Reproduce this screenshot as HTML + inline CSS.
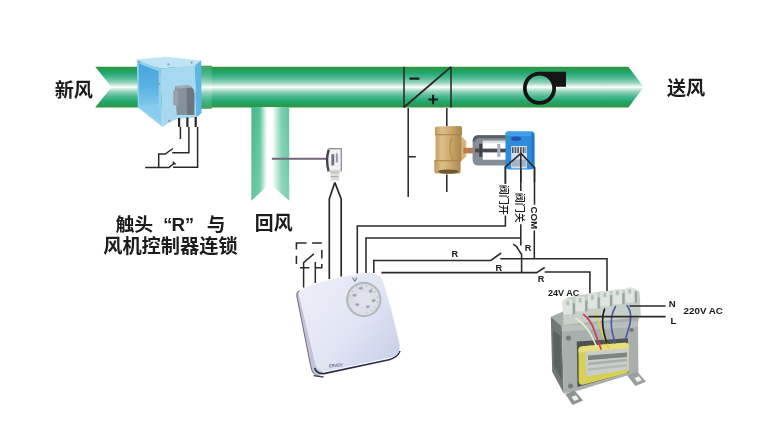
<!DOCTYPE html>
<html lang="zh"><head><meta charset="utf-8"><title>HVAC wiring diagram</title>
<style>html,body{margin:0;padding:0;background:#fff;overflow:hidden}svg{display:block}</style></head>
<body><svg width="759" height="432" viewBox="0 0 759 432">
<defs>
<linearGradient id="duct" x1="0" y1="66.7" x2="0" y2="107.5" gradientUnits="userSpaceOnUse">
<stop offset="0" stop-color="#2f9645"/><stop offset="0.07" stop-color="#299c52"/><stop offset="0.15" stop-color="#1fa870"/>
<stop offset="0.27" stop-color="#4db890"/><stop offset="0.385" stop-color="#8fd2b8"/><stop offset="0.465" stop-color="#d7f0e6"/><stop offset="0.5" stop-color="#ffffff"/>
<stop offset="0.535" stop-color="#d7f0e6"/><stop offset="0.615" stop-color="#8fd2b8"/><stop offset="0.73" stop-color="#4db890"/><stop offset="0.85" stop-color="#1fa870"/>
<stop offset="0.93" stop-color="#299c52"/><stop offset="1" stop-color="#2f9645"/>
</linearGradient>
<linearGradient id="collar" href="#duct" x1="0" y1="65.7" x2="0" y2="108.8" gradientUnits="userSpaceOnUse"/>
<linearGradient id="branch" x1="251.4" y1="0" x2="289.2" y2="0" gradientUnits="userSpaceOnUse">
<stop offset="0" stop-color="#40b888"/><stop offset="0.22" stop-color="#5ac29a"/><stop offset="0.41" stop-color="#ffffff"/>
<stop offset="0.55" stop-color="#ffffff"/><stop offset="0.80" stop-color="#78cfad"/><stop offset="1" stop-color="#60c59e"/>
</linearGradient>
<linearGradient id="branchfade" x1="0" y1="108" x2="0" y2="200" gradientUnits="userSpaceOnUse">
<stop offset="0" stop-color="#fff" stop-opacity="0"/><stop offset="1" stop-color="#fff" stop-opacity="0.18"/>
</linearGradient>
<linearGradient id="brass" x1="434" y1="0" x2="462" y2="0" gradientUnits="userSpaceOnUse">
<stop offset="0" stop-color="#bd9859"/><stop offset="0.28" stop-color="#dcc089"/><stop offset="0.6" stop-color="#cba768"/><stop offset="1" stop-color="#a8854a"/>
</linearGradient>
<linearGradient id="thermo" x1="300" y1="290" x2="400" y2="370" gradientUnits="userSpaceOnUse">
<stop offset="0" stop-color="#eceef8"/><stop offset="0.5" stop-color="#e1e4f3"/><stop offset="1" stop-color="#c6cce8"/>
</linearGradient>
<linearGradient id="dinner" x1="0" y1="64" x2="0" y2="105" gradientUnits="userSpaceOnUse"><stop offset="0" stop-color="#46a5db"/><stop offset="0.55" stop-color="#5ab2e3"/><stop offset="1" stop-color="#7dc7ec"/></linearGradient>
<filter id="tsoft" x="-2%" y="-2%" width="104%" height="104%"><feGaussianBlur stdDeviation="0.3"/></filter>
<filter id="soft" x="-5%" y="-5%" width="110%" height="110%"><feGaussianBlur stdDeviation="0.45"/></filter>
<filter id="soft2" x="-5%" y="-5%" width="110%" height="110%"><feGaussianBlur stdDeviation="0.7"/></filter>
</defs>
<rect width="759" height="432" fill="#fff"/>
<g filter="url(#soft)">
<polygon points="95.2,66.7 628.4,66.7 643.8,87.1 628.4,107.5 95.2,107.5 111.5,87.1" fill="url(#duct)"/>
<rect x="200" y="65.7" width="11.8" height="43.1" fill="url(#collar)"/>
<rect x="200" y="65.7" width="11.8" height="43.1" fill="#fff" opacity="0.12"/>
<polygon points="251.4,107 289.2,107 289.2,200.7 269.9,183.4 251.4,200.7" fill="url(#branch)"/>
<polygon points="251.4,107 289.2,107 289.2,200.7 269.9,183.4 251.4,200.7" fill="url(#branchfade)"/>
</g>
<g stroke="#2e2828" stroke-width="1.55" fill="none" stroke-linecap="butt">
<path d="M404,66.7V107.5 M451,66.7V107.5"/><path d="M404,107.2L451,66.9" stroke-width="1.9"/>
</g>
<path d="M409.4,78.6H419.4" stroke="#1a1a1a" stroke-width="2.2"/>
<path d="M428.4,99.5H437.9 M433.1,94.8V104.3" stroke="#1a1a1a" stroke-width="2.1"/>
<rect x="539.5" y="71.75" width="26.5" height="15" fill="#151515"/>
<circle cx="539.5" cy="88.3" r="14.65" fill="url(#duct)" stroke="#151515" stroke-width="3.8"/>
<g filter="url(#soft)">
<polygon points="136.8,59.6 166.3,56.8 201.2,60.4 195.3,64.8 160.6,68.8" fill="#bfe4f5"/>
<polygon points="136.8,59.6 160.6,68.8 162.6,126.9 137.8,107.6" fill="#93d2ef"/>
<polygon points="138.6,63.4 158.6,71 158.9,104.3 139,106.2" fill="url(#dinner)"/>
<polygon points="139,106.2 158.9,104.3 160.8,121.5 139.6,107.4" fill="#86cdee"/>
<polygon points="160.6,68.8 195.3,64.8 196.2,117.4 178,118.8 169.8,122.3 162.6,126.9" fill="#a6d8f0"/>
<polygon points="195.3,64.8 201.2,60.4 201.5,113 196.2,117.4" fill="#5db6e3"/>
<path d="M174.8,86.2 L188,85.2 Q194.2,86.4 194.4,93.5 L194.2,115 L176.8,115 Z" fill="#87919b"/>
<path d="M186.4,85.8 Q194,86.6 194.4,93.5 L194.2,115 L187,115 Z" fill="#6d7680"/>
<rect x="173.2" y="90.2" width="5" height="15.4" rx="0.8" fill="#98a1ab"/>
<path d="M175,86.5 L188,85.4 Q191,85.8 192.5,87.5 L176,88.6 Z" fill="#a3acb6"/>
<circle cx="168.4" cy="64.4" r="1.15" fill="#8f9aa6"/>
<circle cx="191.6" cy="62.6" r="1.15" fill="#8f9aa6"/>
<circle cx="158.9" cy="84.0" r="1.15" fill="#8f9aa6"/>
<circle cx="169.4" cy="121.0" r="1.15" fill="#8f9aa6"/>
<circle cx="139.2" cy="62.2" r="1.15" fill="#8f9aa6"/>
</g>
<g stroke="#2b2626" fill="none">
<path d="M179.1,118V127 M187.4,117.6V127 M195.7,117V127" stroke-width="2.2"/>
<path d="M180.4,126.9V138.9 M188.9,126.9V152.8H172.2 M197.6,126.9V167.3H173 M173,148.5L165.2,154.1H158.7V167.3 M145.2,167.5H168.9L174.6,162.8 M173,161.8L175.6,164.6" stroke-width="1.5"/>
</g>
<g filter="url(#soft)">
<path d="M271.8,158.8H327" stroke="#75657a" stroke-width="1.9"/>
<rect x="328.4" y="148.1" width="13.5" height="23.4" fill="#f0f1f4"/>
<path d="M328.7,149.6 Q325.4,160 328.7,171.5" fill="none" stroke="#4a4248" stroke-width="2.4"/>
<rect x="328.4" y="148.1" width="13.5" height="1.2" fill="#85858d"/>
<rect x="340.7" y="149" width="1.3" height="22" fill="#8f8f98"/>
<rect x="328.4" y="170.5" width="13.5" height="1" fill="#b5b5bd"/>
<rect x="331.4" y="154.2" width="2.8" height="11.2" fill="#70707c"/>
<rect x="335.8" y="153.4" width="2" height="9" fill="#9a9aa6"/>
<rect x="330.3" y="172" width="9" height="8.6" fill="#dcdee2"/>
<rect x="330.3" y="172" width="9" height="1.2" fill="#c9c28e"/>
<rect x="331" y="176.2" width="7.6" height="1" fill="#a6a8b0"/>
</g>
<g stroke="#2e2828" stroke-width="1.55" fill="none" stroke-linecap="butt">
<path d="M334.8,182.4L329.3,199V279 M334.8,182.4L341.2,199V276.5" stroke-width="1.7"/>
</g>
<g filter="url(#soft)">
<path d="M299.5,290.5 Q296.2,291.5 296.8,296 L310.8,366.5 Q312.2,374.5 318.5,376.6 L323,373 L301.5,290 Z" fill="#c2c3d5"/>
<path d="M299.5,290.5 Q296.2,291.5 296.8,296 L310.8,366.5 Q312.2,374.5 318.5,376.6" fill="none" stroke="#6e6a7a" stroke-width="1"/>
<path d="M313.5,375.6 L323.5,377" fill="none" stroke="#4a4658" stroke-width="1.3"/>
<path d="M314.6,368 Q316.8,374.6 325,373.4 L389,359.7 Q397.2,357.8 400,351" fill="none" stroke="#2c2c48" stroke-width="1.6"/>
<path d="M299.2,296 Q297.5,290 303.5,287.8 Q340,275.5 368,273 Q379,272.8 382.5,280 Q392,310 399.5,344 Q401,354 393.5,356.8 L326.5,371.2 Q317.5,372.8 315.2,364 Z" fill="url(#thermo)"/>
<circle cx="363.8" cy="299.5" r="17.7" fill="#b4b8be"/>
<circle cx="363.8" cy="299.5" r="15.5" fill="#dcdee6"/>
<circle cx="363.8" cy="299.5" r="8" fill="#e1e3ea"/>
<ellipse cx="354.5" cy="295.2" rx="2" ry="1.5" fill="#a3a6b6"/>
<ellipse cx="360.8" cy="288.2" rx="2" ry="1.5" fill="#a3a6b6"/>
<ellipse cx="370.7" cy="291.1" rx="2" ry="1.5" fill="#a3a6b6"/>
<ellipse cx="373.6" cy="300.4" rx="2" ry="1.5" fill="#a3a6b6"/>
<ellipse cx="367.8" cy="306.7" rx="2" ry="1.5" fill="#a3a6b6"/>
<ellipse cx="357.4" cy="304.4" rx="2" ry="1.5" fill="#a3a6b6"/>
<circle cx="350.7" cy="296.0" r="0.5" fill="#9a9da9"/>
<circle cx="352.9" cy="291.3" r="0.5" fill="#9a9da9"/>
<circle cx="356.8" cy="287.8" r="0.5" fill="#9a9da9"/>
<circle cx="361.7" cy="286.1" r="0.5" fill="#9a9da9"/>
<circle cx="366.9" cy="286.2" r="0.5" fill="#9a9da9"/>
<circle cx="371.6" cy="288.4" r="0.5" fill="#9a9da9"/>
<circle cx="375.2" cy="292.1" r="0.5" fill="#9a9da9"/>
<circle cx="377.2" cy="296.9" r="0.5" fill="#9a9da9"/>
<circle cx="377.2" cy="302.1" r="0.5" fill="#9a9da9"/>
<circle cx="375.2" cy="306.9" r="0.5" fill="#9a9da9"/>
<circle cx="371.6" cy="310.6" r="0.5" fill="#9a9da9"/>
<circle cx="366.9" cy="312.8" r="0.5" fill="#9a9da9"/>
<path d="M352.6,277.6l2.2,3.6l2.2,-3.6" stroke="#7a7d8a" stroke-width="1.2" fill="none"/>
</g>
<text x="328.7" y="366.9" font-family="Liberation Sans, sans-serif" font-weight="bold" font-size="4.4" fill="#6d7191" textLength="14" lengthAdjust="spacingAndGlyphs" transform="rotate(-4 336 364)">ERVEV</text>
<g stroke="#2e2828" stroke-width="1.55" fill="none" stroke-linecap="butt">
<path d="M296.4,249.4V242.9H306.5 M312.1,242.9H321.8 M321.8,250.1V258.5 M321.8,264V267.8H315.8 M309.3,267.8H300 M296.4,255.7V264"/>
<path d="M313.9,253.9L303.6,262.6V287.5 M315.3,262V283" stroke-width="1.5"/>
</g>
<g stroke="#2e2828" stroke-width="1.55" fill="none" stroke-linecap="butt">
<path d="M357.3,273.6V225.9H505.4V215.4 M505.4,183.8V166.8L520.9,153.4"/>
<path d="M366,273V238H520.8V224.3 M520.8,191V153.4"/>
<path d="M520.8,238.2V245.6 M513.2,244.1L517.8,247.5 M516,245.8L521.6,254.6V272.5"/>
<path d="M373.8,273V260.4H490.8L501.2,253 M500.2,258.7H607V294.3"/>
<path d="M381.4,272.6H536.7L544.7,267.5 M544.8,272H589.9V294.3"/>
<path d="M520.9,153.4L534.5,167.5V204.8 M534.3,230.6V258.7"/>
<path d="M408.2,108V197 M408.2,156.7H415.8 M446.8,108V126.3 M446.8,174.6V192"/>
</g>
<g filter="url(#soft)">
<path d="M460.5,135.5 L466.2,141 V156.5 L460.5,161.7 Z" fill="#d2b47c"/>
<rect x="463.4" y="147.8" width="10.4" height="5.6" fill="#bd7b49"/>
<path d="M434.9,128.2 Q434.9,126.6 437,126.5 L460,125.9 Q462,125.9 462,128 V134.8 H434.9 Z" fill="url(#brass)"/>
<rect x="435.6" y="133.5" width="25.7" height="28" fill="url(#brass)"/>
<path d="M434.3,160.3 H460.6 V171 Q460.6,173.6 458,173.6 H437 Q434.3,173.6 434.3,171 Z" fill="url(#brass)"/>
<rect x="434.9" y="134" width="27.1" height="1.3" fill="#a17f47" opacity="0.7"/>
<rect x="434.3" y="160" width="26.3" height="1.3" fill="#a17f47" opacity="0.7"/>
<ellipse cx="448.2" cy="171.6" rx="10.4" ry="2.2" fill="#6f5631"/>
<path d="M452,137 Q447.5,148 452.5,160" stroke="#b08d55" stroke-width="1.2" fill="none"/>
<path d="M472.6,141 Q472.8,135.3 478.5,135.3 H507 V140.8 H482.8 V159.7 H507 V165.6 H478.5 Q472.8,165.6 472.6,160 Z" fill="#858d96"/>
<path d="M472.6,141 Q472.8,135.3 478.5,135.3 H507 V138.2 H479 Q475.4,138.4 475.2,142 Z" fill="#5a616a"/>
<rect x="475" y="148.6" width="32" height="3.8" fill="#4a4a52"/>
<rect x="479.2" y="143.8" width="3" height="13" fill="#3d4248"/>
<rect x="497.2" y="144" width="3.2" height="12.8" fill="#aab1b9"/>
<rect x="482.8" y="140.8" width="24.2" height="2.4" fill="#c9ced3" opacity="0.6"/>
<path d="M507.5,131.5 H530.5 Q534.4,131.5 534.4,135.5 V165.5 Q534.5,169.6 530,169.6 H509.5 Q505.5,169.6 505.5,165.5 V134 Q505.6,131.5 507.5,131.5 Z" fill="#2d8cdb"/>
<rect x="505.6" y="131.5" width="28.7" height="4.6" rx="2" fill="#409fe7"/>
<path d="M531.3,132.5 Q534.4,132.5 534.4,136.5 V165.5 Q534.4,168.5 532,169.3 L531.3,140 Z" fill="#2278c6"/>
<rect x="511.2" y="146" width="15.8" height="22.4" fill="#d3dfec"/>
<rect x="512" y="147.2" width="14.2" height="5.8" fill="#4a5566"/>
<rect x="513.6" y="147.2" width="1" height="5.8" fill="#e8eef5"/>
<rect x="516.3" y="147.2" width="1" height="5.8" fill="#e8eef5"/>
<rect x="519.0" y="147.2" width="1" height="5.8" fill="#e8eef5"/>
<rect x="521.7" y="147.2" width="1" height="5.8" fill="#e8eef5"/>
<rect x="524.4" y="147.2" width="1" height="5.8" fill="#e8eef5"/>
<rect x="512" y="159.5" width="14.2" height="7" fill="#a3b2c6"/>
<ellipse cx="516.2" cy="138.7" rx="5" ry="2.2" fill="#2a4fb0"/>
<circle cx="507" cy="137.8" r="1.5" fill="#2fae4a"/>
</g>
<g stroke="#2e2828" stroke-width="1.55" fill="none" stroke-linecap="butt"><path d="M505.4,183.8V166.8L520.9,153.4L534.5,167.5V182 M520.8,182V153.4"/></g>
<g filter="url(#soft)">
<polygon points="550.8,316.8 561.8,325.5 563.8,393.5 552.2,371.8" fill="#727775"/>
<polygon points="553,330 560.5,336 562,380 554,366" fill="#5d625f"/>
<polygon points="550.8,316.8 563,311.5 639,317.6 638,323.6 561.8,326.5" fill="#a8aeab"/>
<polygon points="561.8,325.5 638,321.3 638.4,372 577,391 563.8,393.5" fill="#a9afac"/>
<polygon points="561.8,325.5 638,321.3 638.1,327 562,331.5" fill="#b9bfbc"/>
<polygon points="576.8,341.4 627.8,338.2 628.5,372.5 577.4,387" fill="#4f5350"/>
<path d="M578.5,350 Q578.3,346.6 582.5,346.2 L624.5,342.8 Q629,342.6 629,346.5 L629,369 Q629,372.6 625,373.8 L584,384.6 Q578.8,385.6 578.7,381 Z" fill="#d8cf55"/>
<path d="M578.5,350 Q578.3,346.6 582.5,346.2 L624.5,342.8 Q629,342.6 629,346.5 L629,348.6 L578.5,352.6 Z" fill="#e6df7a"/>
<polygon points="585.6,351.6 628.6,348.3 628.6,369.6 586,376.6" fill="#c9cec8"/>
<polygon points="588,355.5 627,352.5 627,357 588,360.2" fill="#7f857f"/>
<polygon points="588,362.5 627,358.8 627,361.3 588,365.3" fill="#a9afa9"/>
<polygon points="588,368.5 627,364.3 627,366.3 588,370.8" fill="#b3b9b3"/>
<path d="M562.5,301 L568,297.5 L600,291.5 L634,288.5 L639.5,292 L641,317 L563.5,325 Z" fill="#c6d0c8"/>
<rect x="563.2" y="299.2" width="9.2" height="15" rx="1.8" fill="#dde5de"/>
<rect x="572.8" y="303.2" width="2.2" height="11" fill="#9aa49c"/>
<rect x="566.2" y="300.7" width="3" height="4.5" fill="#b6c0b8"/>
<rect x="575.6" y="296.4" width="9.2" height="15" rx="1.8" fill="#dde5de"/>
<rect x="585.2" y="300.4" width="2.2" height="11" fill="#9aa49c"/>
<rect x="578.6" y="297.9" width="3" height="4.5" fill="#b6c0b8"/>
<rect x="588.0" y="293.6" width="9.2" height="15" rx="1.8" fill="#dde5de"/>
<rect x="597.6" y="297.6" width="2.2" height="11" fill="#9aa49c"/>
<rect x="591.0" y="295.1" width="3" height="4.5" fill="#b6c0b8"/>
<rect x="600.4" y="291.2" width="9.2" height="15" rx="1.8" fill="#dde5de"/>
<rect x="610.0" y="295.2" width="2.2" height="11" fill="#9aa49c"/>
<rect x="603.4" y="292.7" width="3" height="4.5" fill="#b6c0b8"/>
<rect x="612.8" y="289.2" width="9.2" height="15" rx="1.8" fill="#dde5de"/>
<rect x="622.4" y="293.2" width="2.2" height="11" fill="#9aa49c"/>
<rect x="615.8" y="290.7" width="3" height="4.5" fill="#b6c0b8"/>
<rect x="625.2" y="287.6" width="9.2" height="15" rx="1.8" fill="#dde5de"/>
<rect x="634.8" y="291.6" width="2.2" height="11" fill="#9aa49c"/>
<rect x="628.2" y="289.1" width="3" height="4.5" fill="#b6c0b8"/>
<g fill="none" stroke-width="1.65" stroke-linecap="round">
<path d="M576,318.5 Q585,324 590.5,334 L597,347" stroke="#e9ebc8"/>
<path d="M583.5,314.5 Q591,320 594.5,331 L601,349" stroke="#cf3a55"/>
<path d="M595.5,311.5 Q598,322 603,335 L608.5,348" stroke="#e3cf3a"/>
<path d="M604.5,309 Q601,319 604,333 L606.5,343" stroke="#1d1d1d"/>
<path d="M615.5,306.5 Q609,318 612.5,333 L615,343" stroke="#5059b0"/>
<path d="M627,305.5 Q633.5,314 628.5,329 L625.5,339" stroke="#5059b0"/>
</g>
<polygon points="565.3,394 574.5,390.5 583,400.5 572.5,405" fill="#8d9391"/>
<polygon points="627,375.3 637.2,371.5 646,381.8 635.3,386" fill="#9aa09e"/>
<polygon points="571.5,397 576,395.3 578.8,399.3 574.3,401" fill="#eef0ee"/>
<polygon points="634.5,378 639,376.3 641.8,380.3 637.3,382" fill="#eef0ee"/>
<circle cx="568.5" cy="338" r="2.5" fill="#757a78"/><circle cx="570.5" cy="386" r="2.5" fill="#757a78"/><circle cx="631.6" cy="330" r="2.1" fill="#757a78"/>
</g>
<g stroke="#2e2828" stroke-width="1.55" fill="none" stroke-linecap="butt"><path d="M629.5,305.9H665.6 M588.4,316.6H665.6"/></g>
<g filter="url(#tsoft)">
<text x="54.7" y="96.9" font-size="18.8" textLength="38.3" lengthAdjust="spacingAndGlyphs" font-family="'Liberation Sans', 'Noto Sans CJK SC', sans-serif" font-weight="bold" fill="#1a1a1a">新风</text>
<text x="666.9" y="95.2" font-size="18.8" textLength="38.3" lengthAdjust="spacingAndGlyphs" font-family="'Liberation Sans', 'Noto Sans CJK SC', sans-serif" font-weight="bold" fill="#1a1a1a">送风</text>
<text x="254.8" y="229.7" font-size="18.8" textLength="37.7" lengthAdjust="spacingAndGlyphs" font-family="'Liberation Sans', 'Noto Sans CJK SC', sans-serif" font-weight="bold" fill="#1a1a1a">回风</text>
<text x="115.4" y="231.4" font-size="18.2" textLength="37.8" lengthAdjust="spacingAndGlyphs" font-family="'Liberation Sans', 'Noto Sans CJK SC', sans-serif" font-weight="bold" fill="#1a1a1a">触头</text>
<text x="163.2" y="230.7" font-size="18" font-family="'Liberation Sans', 'Noto Sans CJK SC', sans-serif" font-weight="bold" fill="#1a1a1a">“</text>
<text x="171.4" y="230.7" font-size="18.3" textLength="13.6" lengthAdjust="spacingAndGlyphs" font-family="Liberation Sans, sans-serif" font-weight="bold" fill="#1a1a1a">R</text>
<text x="185" y="230.7" font-size="18" font-family="'Liberation Sans', 'Noto Sans CJK SC', sans-serif" font-weight="bold" fill="#1a1a1a">”</text>
<text x="206.8" y="231.2" font-size="18.6" font-family="'Liberation Sans', 'Noto Sans CJK SC', sans-serif" font-weight="bold" fill="#1a1a1a">与</text>
<text x="103.2" y="252.6" font-size="18.8" textLength="134.4" lengthAdjust="spacingAndGlyphs" font-family="'Liberation Sans', 'Noto Sans CJK SC', sans-serif" font-weight="bold" fill="#1a1a1a">风机控制器连锁</text>
<text x="451.5" y="256.7" font-size="9.2" font-family="Liberation Sans, sans-serif" font-weight="bold" fill="#1a1a1a">R</text>
<text x="495.6" y="270.9" font-size="9.2" font-family="Liberation Sans, sans-serif" font-weight="bold" fill="#1a1a1a">R</text>
<text x="524.8" y="251.4" font-size="9.2" font-family="Liberation Sans, sans-serif" font-weight="bold" fill="#1a1a1a">R</text>
<text x="537.8" y="282.2" font-size="9.2" font-family="Liberation Sans, sans-serif" font-weight="bold" fill="#1a1a1a">R</text>
<text x="547.9" y="296.1" font-size="9.3" textLength="31.4" lengthAdjust="spacingAndGlyphs" font-family="Liberation Sans, sans-serif" font-weight="bold" fill="#1a1a1a">24V AC</text>
<text x="683.6" y="313.8" font-size="9.6" textLength="39.3" lengthAdjust="spacingAndGlyphs" font-family="Liberation Sans, sans-serif" font-weight="bold" fill="#1a1a1a">220V AC</text>
<text x="668.7" y="306.6" font-size="9.6" font-family="Liberation Sans, sans-serif" font-weight="bold" fill="#1a1a1a">N</text>
<text x="670.6" y="323.9" font-size="9.6" font-family="Liberation Sans, sans-serif" font-weight="bold" fill="#1a1a1a">L</text>
<text transform="translate(509.1,185.4) rotate(90)" x="-0.7" y="8.7" font-size="10.5" textLength="30" lengthAdjust="spacingAndGlyphs" font-family="'Liberation Sans', 'Noto Sans CJK SC', sans-serif" font-weight="500" fill="#1a1a1a">阀门开</text>
<text transform="translate(524.8,193.5) rotate(90)" x="-0.7" y="8.8" font-size="10.5" textLength="30" lengthAdjust="spacingAndGlyphs" font-family="'Liberation Sans', 'Noto Sans CJK SC', sans-serif" font-weight="500" fill="#1a1a1a">阀门关</text>
<text transform="translate(531.3,206.5) rotate(90)" font-size="9.2" textLength="22.7" lengthAdjust="spacingAndGlyphs" font-family="Liberation Sans, sans-serif" font-weight="bold" fill="#1a1a1a">COM</text>
</g>
</svg></body></html>
